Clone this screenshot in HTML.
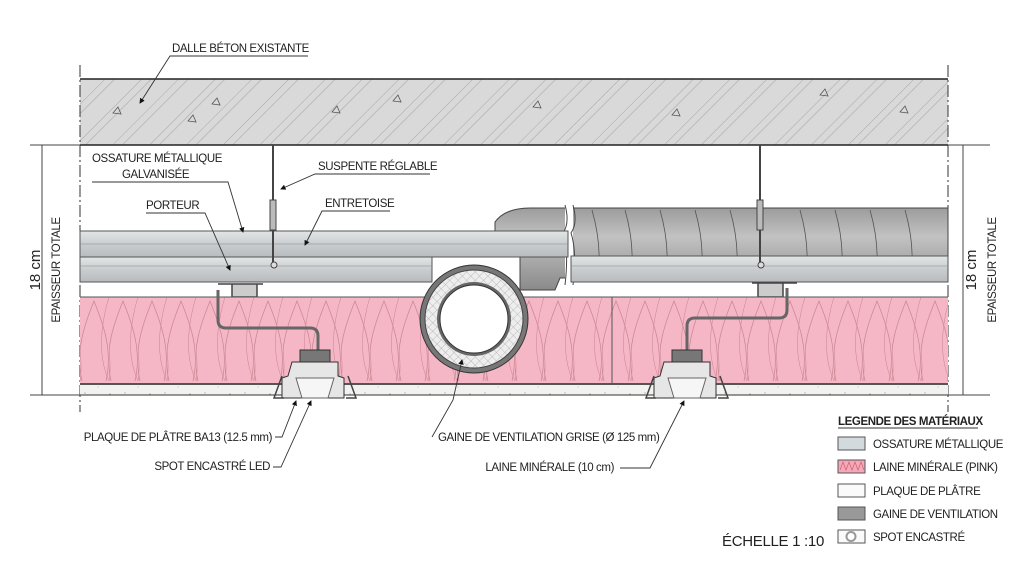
<!DOCTYPE html>
<html><head><meta charset="utf-8"><style>
html,body{margin:0;padding:0;background:#fff;}
svg text{font-family:"Liberation Sans Narrow","Liberation Sans",sans-serif;fill:#222;font-size:11.5px;letter-spacing:-0.4px;}
</style></head><body>
<svg width="1024" height="572" viewBox="0 0 1024 572" xmlns="http://www.w3.org/2000/svg">
<defs>
<pattern id="hatch" width="26" height="26" patternUnits="userSpaceOnUse" patternTransform="rotate(45)">
<rect width="26" height="26" fill="#d9d9d9"/><line x1="0" y1="0" x2="0" y2="26" stroke="#9a9a9a" stroke-width="0.8"/><line x1="7" y1="0" x2="7" y2="26" stroke="#a8a8a8" stroke-width="0.6"/>
</pattern>
<pattern id="wool" width="29" height="86" patternUnits="userSpaceOnUse" x="80" y="297">
<rect width="29" height="86" fill="#f5b6c6"/>
<path d="M2 84 C-6 50 8 20 14 4 C20 20 34 50 26 84" fill="none" stroke="#c9838f" stroke-width="0.7"/>
<path d="M-12 4 C-4 30 4 60 0 84 M29 0 C 20 30 18 60 29 84" fill="none" stroke="#c9838f" stroke-width="0.5"/>
</pattern>
<pattern id="plaster" width="40" height="10" patternUnits="userSpaceOnUse">
<rect width="40" height="10" fill="#f2f2f0"/><circle cx="5" cy="3" r="0.6" fill="#999"/><circle cx="18" cy="7" r="0.5" fill="#aaa"/><circle cx="30" cy="4" r="0.6" fill="#999"/>
</pattern>
<pattern id="mesh" width="6" height="6" patternUnits="userSpaceOnUse" patternTransform="rotate(45)">
<rect width="6" height="6" fill="#eee"/><path d="M0 0H6M0 0V6" stroke="#aaa" stroke-width="0.7"/>
</pattern>
<linearGradient id="duct" x1="0" y1="0" x2="0" y2="1"><stop offset="0" stop-color="#9c9c9c"/><stop offset="0.35" stop-color="#c2c2c2"/><stop offset="1" stop-color="#8a8a8a"/></linearGradient>
<linearGradient id="rail" x1="0" y1="0" x2="0" y2="1"><stop offset="0" stop-color="#e3e6e7"/><stop offset="0.5" stop-color="#c9cdcf"/><stop offset="1" stop-color="#b8bcbe"/></linearGradient>
<marker id="ar" markerWidth="6" markerHeight="6" refX="5" refY="3" orient="auto"><path d="M0 0L6 3L0 6z" fill="#111"/></marker>
</defs>

<rect x="80" y="79" width="868" height="66" fill="url(#hatch)"/>
<line x1="80" y1="79" x2="948" y2="79" stroke="#222" stroke-width="1.5"/>
<line x1="80" y1="145" x2="948" y2="145" stroke="#222" stroke-width="1.5"/>
<g fill="none" stroke="#555" stroke-width="0.8">
<path d="M113 113l5 -6 3 7z"/><path d="M188 121l5 -6 3 7z"/><path d="M212 104l5-6 3 7z"/><path d="M332 112l5-6 3 7z"/><path d="M393 101l5-6 3 7z"/><path d="M533 107l5-6 3 7z"/><path d="M672 115l5-6 3 7z"/><path d="M820 95l5-6 3 7z"/><path d="M900 112l5-6 3 7z"/>
</g>
<line x1="80" y1="65" x2="80" y2="412" stroke="#333" stroke-dasharray="12,3,2,3"/>
<line x1="948" y1="65" x2="948" y2="412" stroke="#333" stroke-dasharray="12,3,2,3"/>

<path d="M495 222 Q505 208 530 208 L948 208 L948 278 L560 278 L555 290 L520 290 L520 240 L495 240 z" fill="url(#duct)" stroke="#444"/>
<g stroke="#555" fill="none" stroke-width="0.8">
<path d="M592 210 q10 35 6 66"/><path d="M625 210 q10 35 6 66"/><path d="M660 210 q10 35 6 66"/><path d="M695 210 q10 35 6 66"/><path d="M730 210 q10 35 6 66"/><path d="M800 210 q10 35 6 66"/><path d="M835 210 q10 35 6 66"/><path d="M870 210 q10 35 6 66"/><path d="M905 210 q10 35 6 66"/>
</g>
<rect x="565" y="205" width="8" height="80" fill="#fff"/>
<path d="M565 205 q5 18 -2 28 q6 18 2 52 M573 205 q5 18 -2 28 q6 18 2 52" stroke="#444" fill="none"/>

<rect x="80" y="231" width="488" height="26" fill="url(#rail)" stroke="#555"/>
<line x1="80" y1="244" x2="568" y2="244" stroke="#888" stroke-width="0.6"/>
<rect x="80" y="257" width="352" height="25" fill="url(#rail)" stroke="#555"/>
<line x1="80" y1="266" x2="432" y2="266" stroke="#888" stroke-width="0.6"/>
<rect x="571" y="256" width="377" height="26" fill="url(#rail)" stroke="#555"/>
<line x1="571" y1="266" x2="948" y2="266" stroke="#888" stroke-width="0.6"/>
<path d="M218 284 h45 M232 284 v13 h25 v-13" stroke="#444" fill="#ccc" stroke-width="1.5"/>
<path d="M752 283 h45 M758 283 v14 h25 v-14" stroke="#444" fill="#ccc" stroke-width="1.5"/>
<line x1="273" y1="145" x2="273" y2="264" stroke="#444" stroke-width="2"/>
<rect x="270" y="200" width="6" height="30" fill="#bbb" stroke="#444"/>
<circle cx="274" cy="265" r="3" fill="#ddd" stroke="#444"/>
<line x1="760" y1="145" x2="760" y2="264" stroke="#444" stroke-width="2"/>
<rect x="757" y="200" width="6" height="30" fill="#bbb" stroke="#444"/>
<circle cx="761" cy="265" r="3" fill="#ddd" stroke="#444"/>

<rect x="80" y="297" width="868" height="86" fill="url(#wool)"/>
<line x1="80" y1="297" x2="948" y2="297" stroke="#555"/>
<line x1="612" y1="297" x2="612" y2="383" stroke="#555"/>
<rect x="80" y="383" width="868" height="2" fill="#555"/>
<rect x="80" y="385" width="868" height="10" fill="url(#plaster)"/>
<line x1="80" y1="395" x2="948" y2="395" stroke="#333"/>

<circle cx="474" cy="319" r="54" fill="#777" stroke="#333"/>
<circle cx="474" cy="319" r="49" fill="url(#mesh)" stroke="#444"/>
<circle cx="474" cy="319" r="37" fill="#666"/>
<circle cx="474" cy="319" r="34" fill="#fff" stroke="#333"/>

<path d="M218 290 v30 q0 8 8 8 h84 q8 0 8 8 v14" stroke="#666" stroke-width="3" fill="none"/>
<path d="M787 288 v22 q0 8 -8 8 h-84 q-8 0 -8 8 v24" stroke="#666" stroke-width="3" fill="none"/>

<g id="spot">
<rect x="300" y="350" width="30" height="12" fill="#777" stroke="#333"/>
<path d="M292 362 h46 v14 l6 2 v20 h-62 v-20 l6 -2 z" fill="#e6e6e6" stroke="#333"/>
<path d="M296 378 h38 l-6 20 h-26 z" fill="#f6f6f6" stroke="#666"/>
<path d="M282 376 l-8 22 h10 M348 376 l8 22 h-10" stroke="#444" fill="none" stroke-width="1.5"/>
</g>
<use href="#spot" transform="translate(372,0)"/>

<g stroke="#444" fill="none">
<line x1="42" y1="145" x2="42" y2="395"/><line x1="30" y1="145" x2="80" y2="145"/><line x1="30" y1="395" x2="80" y2="395"/>
<line x1="963" y1="145" x2="963" y2="395"/><line x1="948" y1="145" x2="990" y2="145"/><line x1="948" y1="395" x2="990" y2="395"/>
</g>
<text transform="translate(40,270) rotate(-90)" text-anchor="middle" style="font-size:15px;letter-spacing:0">18 cm</text>
<text transform="translate(60,270) rotate(-90)" text-anchor="middle">EPAISSEUR TOTALE</text>
<text transform="translate(976,270) rotate(-90)" text-anchor="middle" style="font-size:15px;letter-spacing:0">18 cm</text>
<text transform="translate(996,270) rotate(-90)" text-anchor="middle">EPAISSEUR TOTALE</text>

<g stroke="#333" fill="none" stroke-width="0.9">
<path d="M308 56 H170 L140 103" marker-end="url(#ar)"/>
<path d="M92 182 H228 L243 232" marker-end="url(#ar)"/>
<path d="M146 213 H205 L230 270" marker-end="url(#ar)"/>
<path d="M430 174 H315 L281 189" marker-end="url(#ar)"/>
<path d="M390 211 H322 L305 245" marker-end="url(#ar)"/>
<path d="M275 437 h7 L296 401" marker-end="url(#ar)"/>
<path d="M273 467 h8 L311 401" marker-end="url(#ar)"/>
<path d="M432 437 L453 400 L462 360" marker-end="url(#ar)"/>
<path d="M620 468 h30 L684 401" marker-end="url(#ar)"/>
</g>
<text x="172" y="52">DALLE BÉTON EXISTANTE</text>
<text x="92" y="162">OSSATURE MÉTALLIQUE</text>
<text x="122" y="178">GALVANISÉE</text>
<text x="146" y="209">PORTEUR</text>
<text x="318" y="170">SUSPENTE RÉGLABLE</text>
<text x="325" y="207">ENTRETOISE</text>
<text x="272" y="441" text-anchor="end">PLAQUE DE PLÂTRE BA13 (12.5 mm)</text>
<text x="270" y="470" text-anchor="end">SPOT ENCASTRÉ LED</text>
<text x="438" y="441">GAINE DE VENTILATION GRISE (Ø 125 mm)</text>
<text x="614" y="471" text-anchor="end">LAINE MINÉRALE (10 cm)</text>
<text x="722" y="546" style="font-size:15px;letter-spacing:-0.3px">ÉCHELLE 1 :10</text>

<text x="838" y="425" style="font-weight:bold">LEGENDE DES MATÉRIAUX</text>
<line x1="838" y1="428" x2="978" y2="428" stroke="#333"/>
<rect x="838" y="437" width="27" height="13" fill="#d3dadd" stroke="#555"/>
<text x="873" y="448">OSSATURE MÉTALLIQUE</text>
<rect x="838" y="460" width="27" height="13" fill="#f5a8bc" stroke="#555"/>
<path d="M840 470 l3-8 3 8 3-8 3 8 3-8 3 8 3-8 3 8" stroke="#c55" fill="none" stroke-width="0.6"/>
<text x="873" y="471">LAINE MINÉRALE (PINK)</text>
<rect x="838" y="484" width="27" height="13" fill="#fafafa" stroke="#555"/>
<text x="873" y="495">PLAQUE DE PLÂTRE</text>
<rect x="838" y="507" width="27" height="13" fill="#999" stroke="#555"/>
<text x="873" y="518">GAINE DE VENTILATION</text>
<rect x="838" y="530" width="27" height="13" fill="#fafafa" stroke="#555"/>
<circle cx="851" cy="536.5" r="4.5" fill="#fff" stroke="#999" stroke-width="2"/>
<text x="873" y="541">SPOT ENCASTRÉ</text>
</svg>
</body></html>
